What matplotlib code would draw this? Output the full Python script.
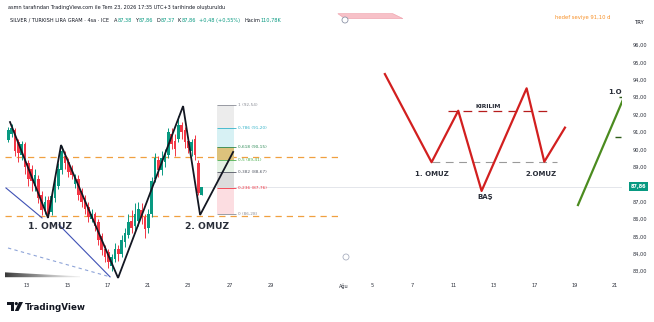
import numpy as np
import matplotlib.pyplot as plt
from matplotlib.patches import Polygon, Circle, Rectangle


# 4h candles (SILVER / TRY gram)
open_  = [90.55, 90.90, 91.10, 90.40, 89.70, 90.30, 89.20, 88.90, 87.90, 88.30,
          87.40, 86.50, 87.10, 86.40, 87.20, 87.90, 88.80, 89.60, 89.30, 88.90,
          88.00, 88.30, 87.60, 87.20, 86.70, 86.00, 86.30, 85.80, 85.00, 84.30,
          84.10, 83.30, 83.70, 84.30, 84.00, 84.70, 85.10, 85.90, 85.60, 85.90,
          86.50, 86.10, 85.50, 86.30, 88.30, 89.40, 88.80, 89.30, 89.70, 90.90,
          90.50, 90.60, 91.40, 91.10, 90.50, 89.90, 90.60, 89.20, 87.38]
close  = [91.10, 91.20, 89.90, 89.80, 90.30, 89.00, 88.30, 88.20, 88.50, 87.20,
          86.50, 87.00, 86.30, 87.30, 88.00, 88.90, 89.90, 89.20, 88.70, 88.50,
          88.40, 87.40, 87.00, 86.60, 86.10, 86.30, 85.60, 84.80, 84.20, 83.80,
          83.50, 83.80, 84.30, 84.00, 84.80, 85.20, 85.80, 85.50, 86.30, 86.60,
          86.10, 85.40, 86.30, 88.20, 89.50, 88.80, 89.50, 89.70, 91.00, 90.30,
          90.00, 91.40, 91.00, 90.40, 90.10, 90.40, 89.70, 87.50, 87.86]
high   = [91.30, 91.45, 91.20, 90.60, 90.50, 90.40, 89.40, 89.10, 88.90, 88.50,
          87.60, 87.30, 87.30, 87.50, 88.30, 89.20, 90.20, 89.90, 89.50, 89.10,
          88.60, 88.50, 87.80, 87.40, 87.00, 86.60, 86.40, 86.00, 85.20, 84.50,
          84.30, 84.00, 84.60, 84.50, 85.10, 85.50, 86.30, 86.50, 86.90, 87.00,
          86.90, 86.30, 86.60, 88.40, 89.80, 89.60, 89.90, 90.00, 91.20, 91.20,
          90.90, 91.90, 91.60, 91.30, 90.70, 90.60, 90.80, 89.40, 87.86]
low    = [90.40, 90.70, 89.60, 89.30, 89.40, 88.60, 87.90, 87.60, 87.60, 86.90,
          86.20, 86.30, 86.10, 86.20, 87.00, 87.70, 88.60, 88.90, 88.40, 88.30,
          87.80, 87.10, 86.70, 86.30, 85.80, 85.80, 85.30, 84.50, 83.90, 83.50,
          83.20, 83.00, 83.50, 83.60, 83.80, 84.40, 84.90, 85.20, 85.30, 85.60,
          85.70, 84.90, 85.20, 86.10, 88.10, 88.40, 88.50, 89.00, 89.50, 90.00,
          89.60, 90.40, 90.60, 90.10, 89.80, 89.60, 89.40, 87.40, 87.37]

# black zigzag (left pattern)
zigzag_x = [1.5, 12.9, 16.8, 33.9, 53.4, 58.5, 68.4]
zigzag_y = [91.57, 86.06, 90.25, 82.61, 92.49, 86.23, 89.85]

# red schematic (right pattern)
scheme_x = [113.9, 127.9, 135.9, 142.9, 156.4, 161.7, 167.9]
scheme_y = [94.33, 89.26, 92.22, 87.61, 93.51, 89.29, 91.25]
scheme_labels = ['1. OMUZ', 'BAŞ', '2.OMUZ']
scheme_label_x = [128.0, 143.9, 160.9]
scheme_label_y = [88.57, 87.28, 88.57]
kirilim_y = 92.22
neck_y = 89.26

# green line far right
green_x = [171.8, 185.9]
green_y = [86.80, 93.13]

# fibonacci retracement
fib_levels = [1, 0.786, 0.618, 0.5, 0.382, 0.236, 0]
fib_low, fib_high = 86.28, 92.54
fib_colors = ['#8a8d96', '#34b3c9', '#2e8b57', '#4caf50', '#555a66', '#f23645', '#8a8d96']
fib_fills = ['#ececec', '#d7f1f4', '#dcc27c', '#e5f2e5', '#dcdcdc', '#fcdde1']

# orange dashed support / resistance
orange_levels = [89.58, 86.19]

# blue trend lines
blue_a_x, blue_a_y = [0.3, 11.1], [87.78, 86.06]
blue_b_x, blue_b_y = [16.2, 31.5], [85.66, 82.67]
blue_d_x, blue_d_y = [0.9, 31.5], [84.33, 82.67]

last_price = 87.86

tick_pos    = [6.6, 18.9, 30.9, 42.9, 54.9, 67.5, 79.8, 101.6, 110.0, 122.0, 134.6, 146.6, 158.9, 170.9, 182.9]
tick_labels = ['13', '15', '17', '21', '23', '27', '29', 'Ağu', '5', '7', '11', '13', '17', '19', '21']
price_ticks = list(range(83, 97))


def tr(v, nd=2):
    return f'{v:.{nd}f}'.replace('.', ',')


fig = plt.figure(figsize=(6.54, 3.22), dpi=100)
fig.patch.set_facecolor('white')

ax = fig.add_axes([5 / 654, 1 - 280 / 322, 617 / 654, 267 / 322])
ax.set_xlim(0, 185)
ax.set_ylim(82.49, 97.84)
for s in ax.spines.values():
    s.set_visible(False)

ax.yaxis.tick_right()
ax.set_yticks(price_ticks)
# the 88 label sits under the last price tag
ax.set_yticklabels(['' if v == 88 else tr(v) for v in price_ticks])
ax.tick_params(axis='y', length=0, pad=8, labelsize=3.6, labelcolor='#2a2e39')
ax.set_xticks(tick_pos)
ax.set_xticklabels(tick_labels)
ax.tick_params(axis='x', length=0, pad=2.5, labelsize=3.6, labelcolor='#2a2e39')

# last price line
ax.axhline(last_price, color='#dfe2e8', lw=0.6, zorder=0)

# orange dashed levels
for lv in orange_levels:
    ax.hlines(lv, 0, 101, color='#f0a040', lw=0.9, linestyles=(0, (5, 4)), zorder=1)

# candles
o, c, h, l = map(np.array, (open_, close, high, low))
bx = np.arange(1, len(c) + 1)
cols = np.where(c >= o, '#089981', '#f23645')
ax.vlines(bx, l, h, colors=cols, lw=0.7, zorder=2)
ax.bar(bx, np.maximum(np.abs(c - o), 0.05), bottom=np.minimum(o, c), width=0.78,
       color=cols, lw=0, zorder=2)

# blue lines
ax.plot(blue_a_x, blue_a_y, color='#3f51b5', lw=0.8, zorder=3)
ax.plot(blue_b_x, blue_b_y, color='#3f51b5', lw=0.8, zorder=3)
ax.plot(blue_d_x, blue_d_y, color='#8ea4d8', lw=0.8, ls=(0, (3, 3)), zorder=3)

# gradient wedge bottom-left
grad = np.linspace(0, 1, 256).reshape(1, -1)
im = ax.imshow(grad, cmap='Greys_r', extent=[0, 22.5, 82.62, 82.93], aspect='auto',
               vmin=-0.25, vmax=1.15, zorder=3)
wedge = Polygon([(0, 82.93), (22.5, 82.70), (22.5, 82.65), (0, 82.65)], closed=True,
                transform=ax.transData, facecolor='none', edgecolor='none')
ax.add_patch(wedge)
im.set_clip_path(wedge)

# zigzag
ax.plot(zigzag_x, zigzag_y, color='#131722', lw=1.3, zorder=4, solid_joinstyle='miter')
ax.text(13.5, 85.55, '1. OMUZ', fontsize=6.6, fontweight='bold', color='#2a2e39',
        ha='center', va='center', zorder=5)
ax.text(60.7, 85.55, '2. OMUZ', fontsize=6.6, fontweight='bold', color='#2a2e39',
        ha='center', va='center', zorder=5)

# fibonacci
fx0, fx1 = 63.6, 68.7
fp = [fib_low + lv * (fib_high - fib_low) for lv in fib_levels]
for i in range(len(fp) - 1):
    ax.fill_between([fx0, fx1], fp[i + 1], fp[i], color=fib_fills[i], lw=0, zorder=1)
for lv, p, col in zip(fib_levels, fp, fib_colors):
    ax.hlines(p, fx0, fx1 + 0.5, color=col, lw=0.6, zorder=1.5)
    ax.text(fx1 + 1.1, p, f'{str(lv).replace(".", ",")} ({tr(p)})', fontsize=3.1,
            color=col, va='center', ha='left', zorder=5)

# right schematic
ax.plot(scheme_x, scheme_y, color='#d21f1f', lw=1.6, zorder=4)
ax.hlines(kirilim_y, 132.9, 163.4, color='#b71c1c', lw=0.9, linestyles=(0, (7, 5)), zorder=3)
ax.hlines(neck_y, 128.0, 165.4, color='#9a9a9a', lw=0.8, linestyles=(0, (7, 5)), zorder=3)
ax.text(144.9, 92.45, 'KIRILIM', fontsize=4.4, fontweight='bold', color='#2a2e39',
        ha='center', va='center', zorder=5)
for t, x, y in zip(scheme_labels, scheme_label_x, scheme_label_y):
    ax.text(x, y, t, fontsize=5, fontweight='bold', color='#2a2e39', ha='center',
            va='center', zorder=5)

# green line and marks at the edge
ax.plot(green_x, green_y, color='#4b8b1f', lw=1.6, zorder=4)
ax.hlines(93.03, 184.1, 185.3, color='#2e5e1a', lw=1.0, zorder=4)
ax.hlines(90.71, 182.8, 184.7, color='#2e5e1a', lw=1.0, zorder=4)
ax.text(180.8, 93.32, '1.OMUZ', fontsize=5, fontweight='bold', color='#2a2e39',
        ha='left', va='center', zorder=5, clip_on=True)

# pink drawing at the top
ax.add_patch(Polygon([(99.8, 97.80), (116.3, 97.80), (119.3, 97.52), (101.9, 97.52)],
                     closed=True, facecolor='#f7c1c8', edgecolor='#ef9aa6', lw=0.4, zorder=3))

# last price label
ax.text(1.027, last_price, tr(last_price), transform=ax.get_yaxis_transform(),
        fontsize=3.6, color='white', ha='center', va='center', fontweight='bold',
        bbox=dict(boxstyle='square,pad=0.35', fc='#089981', ec='none'), clip_on=False)

# overlay in figure pixels
ov = fig.add_axes([0, 0, 1, 1])
ov.set_xlim(0, 654)
ov.set_ylim(322, 0)
ov.axis('off')
ov.patch.set_visible(False)

ov.text(8, 7, 'asmn tarafından TradingView.com ile Tem 23, 2026 17:35 UTC+3 tarihinde oluşturuldu',
        fontsize=3.6, color='#131722', va='center', ha='left')

pieces = [('SILVER / TURKISH LIRA GRAM · 4sa · ICE', '#131722', 0),
          ('A', '#131722', 3), ('87,38', '#089981', 0),
          ('Y', '#131722', 2), ('87,86', '#089981', 0),
          ('D', '#131722', 2), ('87,37', '#089981', 0),
          ('K', '#131722', 2), ('87,86', '#089981', 0),
          ('+0,48 (+0,55%)', '#089981', 2),
          ('Hacim', '#131722', 3), ('110,78K', '#089981', 0)]
prev = ov.text(10, 20, pieces[0][0], fontsize=3.6, color=pieces[0][1], va='center', ha='left')
for txt, col, gap in pieces[1:]:
    prev = ov.annotate(txt, xy=(1, 0.5), xycoords=prev, xytext=(gap + 0.3, 0),
                       textcoords='offset points', fontsize=3.6, color=col,
                       va='center', ha='left')

ov.text(640, 22, 'TRY', fontsize=3.8, color='#131722', ha='center', va='center')
ov.text(555, 17, 'hedef seviye 91,10 d', fontsize=3.8, color='#f57c00', ha='left',
        va='center', alpha=0.85)

ov.add_patch(Circle((345, 20), 3, fc='white', ec='#8e95a8', lw=0.6))
ov.add_patch(Circle((346, 257), 3, fc='white', ec='#aab0c0', lw=0.6))

# TradingView footer
ov.add_patch(Rectangle((7, 302), 7, 3, fc='#131722', ec='none'))
ov.add_patch(Rectangle((10.5, 302), 3.5, 9, fc='#131722', ec='none'))
ov.add_patch(Circle((16.3, 303.6), 1.6, fc='#131722', ec='none'))
ov.add_patch(Polygon([(19, 302), (23, 302), (18.5, 311), (14.8, 311)], closed=True,
                     fc='#131722', ec='none'))
ov.text(25, 307, 'TradingView', fontsize=6.3, fontweight='semibold', color='#131722',
        ha='left', va='center')

fig.savefig('out.png', dpi=100, facecolor='white')
